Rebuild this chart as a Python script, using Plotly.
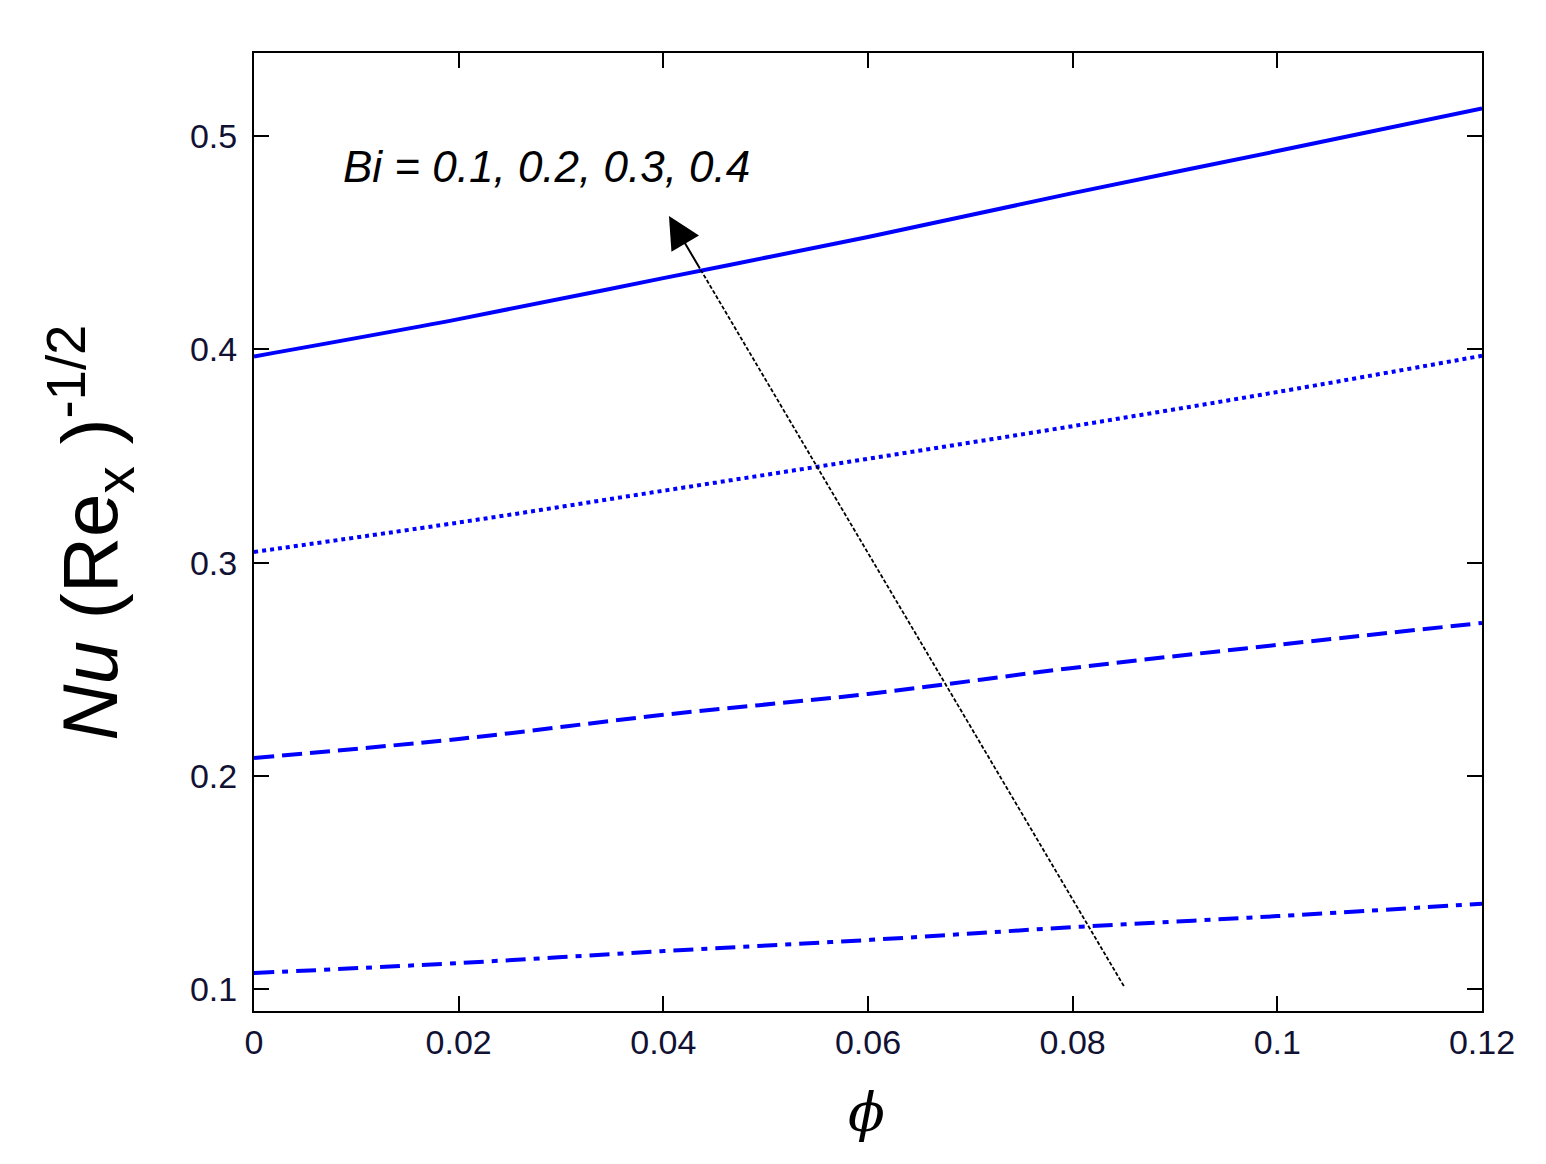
import plotly.graph_objects as go

phi = [0.0, 0.02, 0.04, 0.06, 0.08, 0.10, 0.12]
nu_bi04 = [0.3967, 0.4142, 0.4334, 0.4527, 0.4733, 0.4930, 0.5130]
nu_bi03 = [0.3050, 0.3188, 0.3337, 0.3487, 0.3640, 0.3800, 0.3970]
nu_bi02 = [0.2084, 0.2173, 0.2286, 0.2384, 0.2506, 0.2614, 0.2717]
nu_bi01 = [0.1075, 0.1122, 0.1178, 0.1230, 0.1290, 0.1342, 0.1400]

x_ticks = [0, 0.02, 0.04, 0.06, 0.08, 0.10, 0.12]
x_tick_text = ["0", "0.02", "0.04", "0.06", "0.08", "0.1", "0.12"]
y_ticks = [0.1, 0.2, 0.3, 0.4, 0.5]
y_tick_text = ["0.1", "0.2", "0.3", "0.4", "0.5"]

arrow_tail = (0.0850, 0.1014)
arrow_head = (0.04055, 0.4625)
label_text = "<i>Bi = 0.1, 0.2, 0.3, 0.4</i>"

blue = "rgb(0,0,255)"
fig = go.Figure()
series = [(nu_bi04, "solid"), (nu_bi03, "dot"), (nu_bi02, "20px,8px"), (nu_bi01, "20px,8px,6px,8px")]
for ys, dash in series:
    fig.add_trace(go.Scatter(x=phi, y=ys, mode="lines",
                             line=dict(color=blue, width=4, dash=dash, shape="spline", smoothing=1.0),
                             showlegend=False, hoverinfo="skip"))

# dashed arrow shaft
fx = 0.93
shaft_end = (arrow_tail[0] + (arrow_head[0] - arrow_tail[0]) * fx,
             arrow_tail[1] + (arrow_head[1] - arrow_tail[1]) * fx)
fig.add_trace(go.Scatter(x=[arrow_tail[0], shaft_end[0]], y=[arrow_tail[1], shaft_end[1]], mode="lines",
                         line=dict(color="black", width=1.8, dash="4px,2px"), showlegend=False, hoverinfo="skip"))
fig.add_annotation(x=arrow_head[0], y=arrow_head[1], ax=shaft_end[0], ay=shaft_end[1],
                   xref="x", yref="y", axref="x", ayref="y", text="", showarrow=True,
                   arrowhead=2, arrowsize=3.2, arrowwidth=2, arrowcolor="black", standoff=0)

fig.add_annotation(x=0.0085, y=0.486, xref="x", yref="y", text=label_text, showarrow=False,
                   xanchor="left", yanchor="middle",
                   font=dict(family="Liberation Sans, Arial", size=44, color="black"))

fig.add_annotation(x=-0.133, y=0.499, xref="paper", yref="paper", textangle=-90,
                   text="<i>Nu</i> (Re<sub>x</sub> )<sup>-1/2</sup>", showarrow=False,
                   xanchor="center", yanchor="middle",
                   font=dict(family="Liberation Sans, Arial", size=78, color="black"))
fig.add_annotation(x=0.499, y=-0.106, xref="paper", yref="paper", text="<i>ϕ</i>", showarrow=False,
                   xanchor="center", yanchor="middle",
                   font=dict(family="DejaVu Serif, Liberation Serif", size=54, color="black"))

axis_common = dict(showline=True, linecolor="black", linewidth=2, mirror="ticks", ticks="inside",
                   ticklen=15, tickwidth=2, tickcolor="black", showgrid=False, zeroline=False,
                   tickfont=dict(family="Liberation Sans, Arial", size=34, color="#111133"))
fig.update_xaxes(range=[0, 0.12], tickvals=x_ticks, ticktext=x_tick_text, ticklabelstandoff=0, **axis_common)
fig.update_yaxes(range=[0.0897, 0.539], tickvals=y_ticks, ticktext=y_tick_text, ticklabelstandoff=8, **axis_common)

fig.update_layout(width=1546, height=1164, plot_bgcolor="white", paper_bgcolor="white",
                  margin=dict(l=246, r=72, t=45, b=161))
fig.write_html("out.html")
